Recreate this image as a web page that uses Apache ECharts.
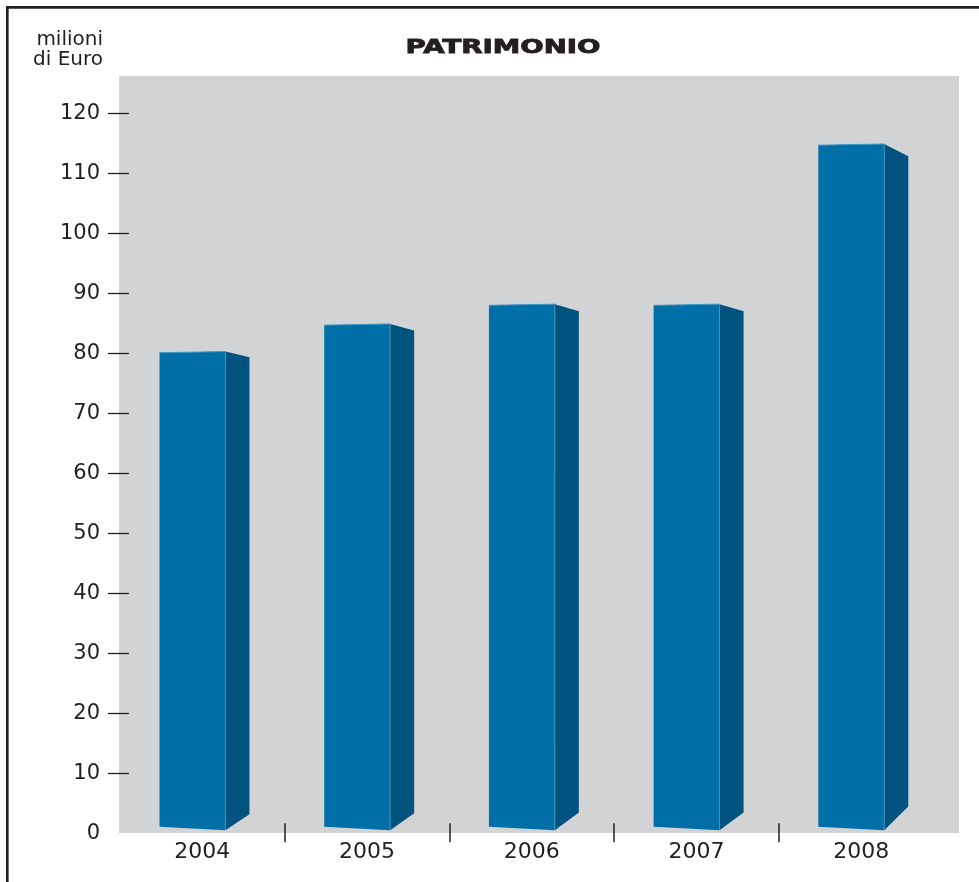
<!DOCTYPE html>
<html>
<head>
<meta charset="utf-8">
<script src="https://cdn.jsdelivr.net/npm/echarts@6/dist/echarts.min.js"></script>
<style>
html,body{margin:0;padding:0;background:#fff;}
#chart{width:979px;height:882px;}
</style>
</head>
<body>
<div id="chart"></div>
<script>
// ---- data ----
const years = ['2004', '2005', '2006', '2007', '2008'];
const patrimonio = [80.2, 84.8, 88.1, 88.1, 114.8];
const yTickValues = [10, 20, 30, 40, 50, 60, 70, 80, 90, 100, 110, 120];
const titleText = 'PATRIMONIO';
const unitText = 'milioni\ndi Euro';

const TEXT = '#231f20';
const FONT = 'DejaVu Sans';

const chart = echarts.init(document.getElementById('chart'), null, {renderer: 'canvas'});

function renderBar(params, api) {
  const idx = api.value(0);
  const val = api.value(1);
  const top = api.coord([idx, val]);
  const base = api.coord([idx, 0]);
  const band = api.size([1, 0])[0];
  const cx = top[0];
  const xl = cx - 0.26 * band;
  const xr = cx + 0.14 * band;
  const xs = xr + 0.146 * band;
  const h = base[1] - top[1];
  const drop = Math.max(3, 5.6 + (h - 480) * 0.032);
  const rise = Math.max(8, 16 + (h - 480) * 0.037);
  const ty = top[1];
  const by = base[1];
  return {
    type: 'group',
    children: [
      {
        type: 'polygon',
        shape: {points: [[xl, ty + 0.7], [xr, ty - 0.5], [xr, by - 3], [xl, by - 6.5]]},
        style: {fill: '#006fa7'}
      },
      {
        type: 'polygon',
        shape: {points: [[xr, ty - 0.5], [xs, ty - 0.5 + drop], [xs, by - 3 - rise], [xr, by - 3]]},
        style: {fill: '#00527f'}
      },
      {
        type: 'polyline',
        shape: {points: [[xl, ty + 0.7], [xr, ty - 0.5], [xr, by - 3]]},
        style: {stroke: '#3f93c2', lineWidth: 1, fill: null}
      }
    ]
  };
}

const option = {
  animation: false,
  backgroundColor: '#ffffff',
  graphic: [
    {type: 'rect', z: -10, shape: {x: 119, y: 76, width: 840, height: 757}, style: {fill: '#d1d3d4'}},
    {type: 'line', shape: {x1: 6, y1: 7.3, x2: 979, y2: 7.3}, style: {stroke: '#231f20', lineWidth: 2.7}},
    {type: 'line', shape: {x1: 7.3, y1: 6, x2: 7.3, y2: 882}, style: {stroke: '#231f20', lineWidth: 2.7}},
    {
      type: 'text', x: 503, y: 47.5, scaleX: 1.38, scaleY: 1,
      style: {text: titleText, x: 0, y: 0, font: 'bold 20px "DejaVu Sans"', fill: TEXT,
        stroke: TEXT, lineWidth: 0.9,
        align: 'center', verticalAlign: 'middle', textAlign: 'center', textVerticalAlign: 'middle'}
    },
    {
      type: 'text', x: 103, y: 30,
      style: {text: unitText, x: 0, y: 0, font: '20px "DejaVu Sans"', fill: TEXT, lineHeight: 20,
        align: 'right', verticalAlign: 'top', textAlign: 'right', textVerticalAlign: 'top'}
    }
  ],
  grid: {left: 120, right: 35.5, top: 113.3, bottom: 48.8, containLabel: false},
  xAxis: [
    {
      type: 'category',
      data: years,
      boundaryGap: true,
      axisLine: {show: false},
      axisTick: {show: false},
      axisLabel: {color: TEXT, fontFamily: FONT, fontSize: 22, margin: 8}
    },
    {
      type: 'value',
      position: 'bottom',
      min: 0, max: 5, interval: 1,
      offset: 9,
      axisLine: {show: false},
      axisLabel: {show: false},
      splitLine: {show: false},
      axisTick: {show: true, inside: true, length: 19, customValues: [1, 2, 3, 4],
        lineStyle: {color: TEXT, width: 1.5}}
    }
  ],
  yAxis: {
    type: 'value',
    min: 0, max: 120, interval: 10,
    offset: -9,
    axisLine: {show: false},
    splitLine: {show: false},
    axisTick: {show: true, length: 21, customValues: yTickValues, lineStyle: {color: TEXT, width: 1.3}},
    axisLabel: {color: TEXT, fontFamily: FONT, fontSize: 21, margin: 29}
  },
  series: [
    {
      type: 'custom',
      xAxisIndex: 0,
      yAxisIndex: 0,
      renderItem: renderBar,
      encode: {x: 0, y: 1},
      data: years.map((y, i) => [i, patrimonio[i]]),
      clip: false
    }
  ]
};

chart.setOption(option);
</script>
</body>
</html>
